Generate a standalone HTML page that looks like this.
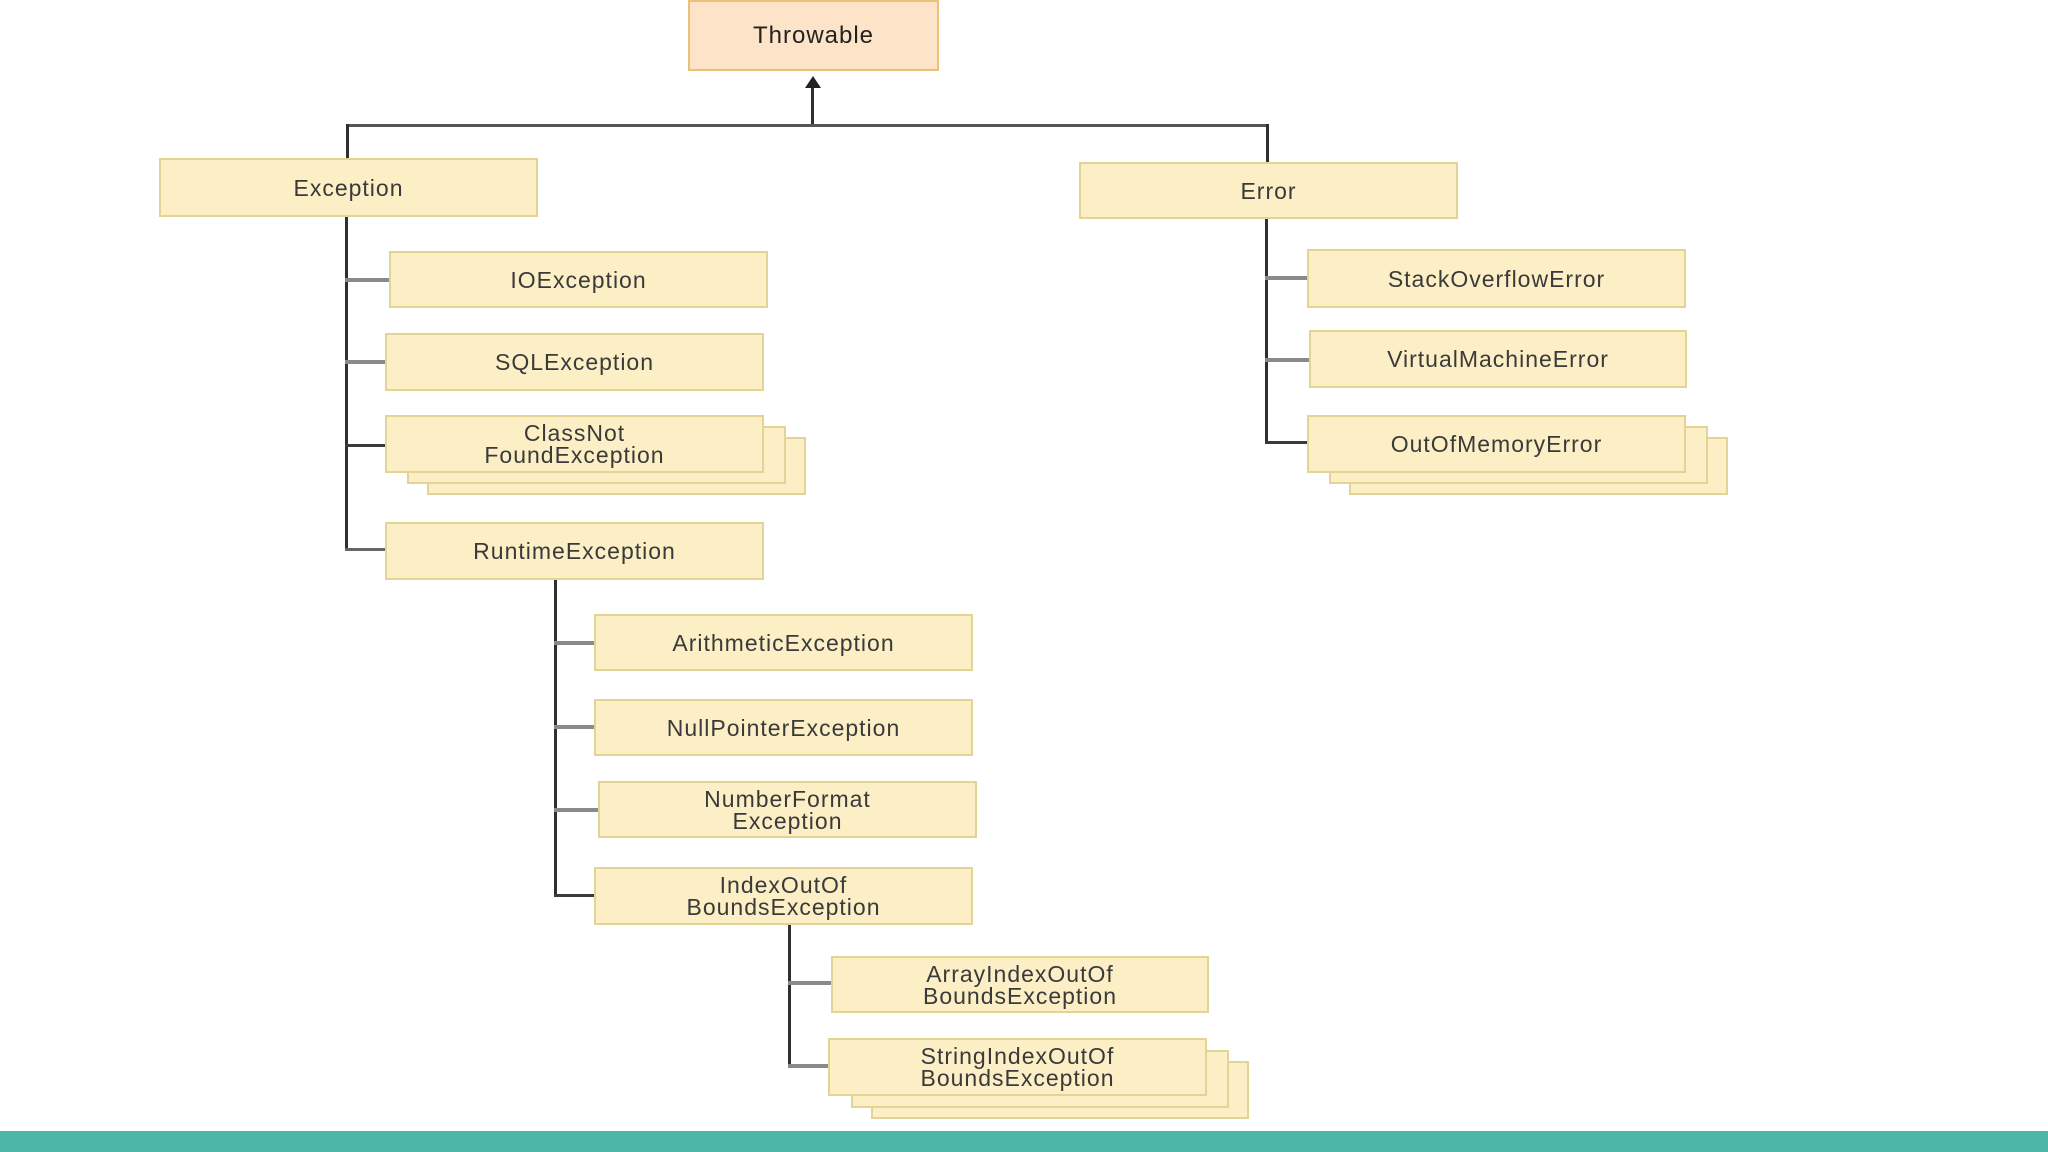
<!DOCTYPE html>
<html><head><meta charset="utf-8"><style>
html,body{margin:0;padding:0;}
body{width:2048px;height:1152px;position:relative;background:#fff;overflow:hidden;font-family:"Liberation Sans",sans-serif;}
.b{position:absolute;background:#fcefc6;border:2px solid #e3d394;box-sizing:border-box;display:flex;align-items:center;justify-content:center;text-align:center;color:#3a3a3a;font-size:23px;letter-spacing:1px;line-height:22px;}
.s{position:absolute;background:#fcefc6;border:2px solid #e3d394;box-sizing:border-box;}
.v{position:absolute;background:#2f2f2f;width:3px;}
.h{position:absolute;background:#8a8a8a;height:4px;}
.hd{position:absolute;background:#3a3a3a;height:3px;}
</style></head><body>
<div class="b" style="left:688px;top:0;width:251px;height:71px;background:#fde3c8;border-color:#e8c27a;font-size:24px;color:#222">Throwable</div>
<!-- arrow -->
<div class="v" style="left:811px;top:84px;height:42px;"></div>
<svg style="position:absolute;left:803px;top:76px" width="20" height="14"><polygon points="10,0 2,12 18,12" fill="#222"/></svg>
<div class="hd" style="left:346px;top:124px;width:923px;background:#555"></div>
<div class="v" style="left:346px;top:124px;height:36px;"></div>
<div class="v" style="left:1266px;top:124px;height:40px;"></div>

<div class="b" style="left:159px;top:158px;width:379px;height:59px;">Exception</div>
<div class="b" style="left:1079px;top:162px;width:379px;height:57px;">Error</div>

<!-- Exception tree -->
<div class="v" style="left:345px;top:217px;height:334px;"></div>
<div class="h" style="left:345px;top:278px;width:44px;"></div>
<div class="h" style="left:345px;top:360px;width:40px;"></div>
<div class="hd" style="left:345px;top:444px;width:40px;"></div>
<div class="hd" style="left:345px;top:548px;width:40px;background:#666"></div>
<div class="b" style="left:389px;top:251px;width:379px;height:57px;">IOException</div>
<div class="b" style="left:385px;top:333px;width:379px;height:58px;">SQLException</div>
<div class="s" style="left:427px;top:437px;width:379px;height:58px;"></div>
<div class="s" style="left:407px;top:426px;width:379px;height:58px;"></div>
<div class="b" style="left:385px;top:415px;width:379px;height:58px;">ClassNot<br>FoundException</div>
<div class="b" style="left:385px;top:522px;width:379px;height:58px;">RuntimeException</div>

<!-- Runtime tree -->
<div class="v" style="left:554px;top:580px;height:317px;"></div>
<div class="h" style="left:554px;top:641px;width:40px;"></div>
<div class="h" style="left:554px;top:725px;width:40px;"></div>
<div class="h" style="left:554px;top:808px;width:44px;"></div>
<div class="hd" style="left:554px;top:894px;width:40px;"></div>
<div class="b" style="left:594px;top:614px;width:379px;height:57px;">ArithmeticException</div>
<div class="b" style="left:594px;top:699px;width:379px;height:57px;">NullPointerException</div>
<div class="b" style="left:598px;top:781px;width:379px;height:57px;">NumberFormat<br>Exception</div>
<div class="b" style="left:594px;top:867px;width:379px;height:58px;">IndexOutOf<br>BoundsException</div>

<!-- Index tree -->
<div class="v" style="left:788px;top:925px;height:142px;"></div>
<div class="h" style="left:788px;top:981px;width:43px;"></div>
<div class="h" style="left:788px;top:1064px;width:40px;"></div>
<div class="b" style="left:831px;top:956px;width:378px;height:57px;">ArrayIndexOutOf<br>BoundsException</div>
<div class="s" style="left:871px;top:1061px;width:378px;height:58px;"></div>
<div class="s" style="left:851px;top:1050px;width:378px;height:58px;"></div>
<div class="b" style="left:828px;top:1038px;width:379px;height:58px;">StringIndexOutOf<br>BoundsException</div>

<!-- Error tree -->
<div class="v" style="left:1265px;top:219px;height:225px;"></div>
<div class="h" style="left:1265px;top:276px;width:42px;"></div>
<div class="h" style="left:1265px;top:358px;width:44px;"></div>
<div class="hd" style="left:1265px;top:441px;width:42px;"></div>
<div class="b" style="left:1307px;top:249px;width:379px;height:59px;">StackOverflowError</div>
<div class="b" style="left:1309px;top:330px;width:378px;height:58px;">VirtualMachineError</div>
<div class="s" style="left:1349px;top:437px;width:379px;height:58px;"></div>
<div class="s" style="left:1329px;top:426px;width:379px;height:58px;"></div>
<div class="b" style="left:1307px;top:415px;width:379px;height:58px;">OutOfMemoryError</div>

<div style="position:absolute;left:0;top:1131px;width:2048px;height:21px;background:#4db6a9"></div>
</body></html>
